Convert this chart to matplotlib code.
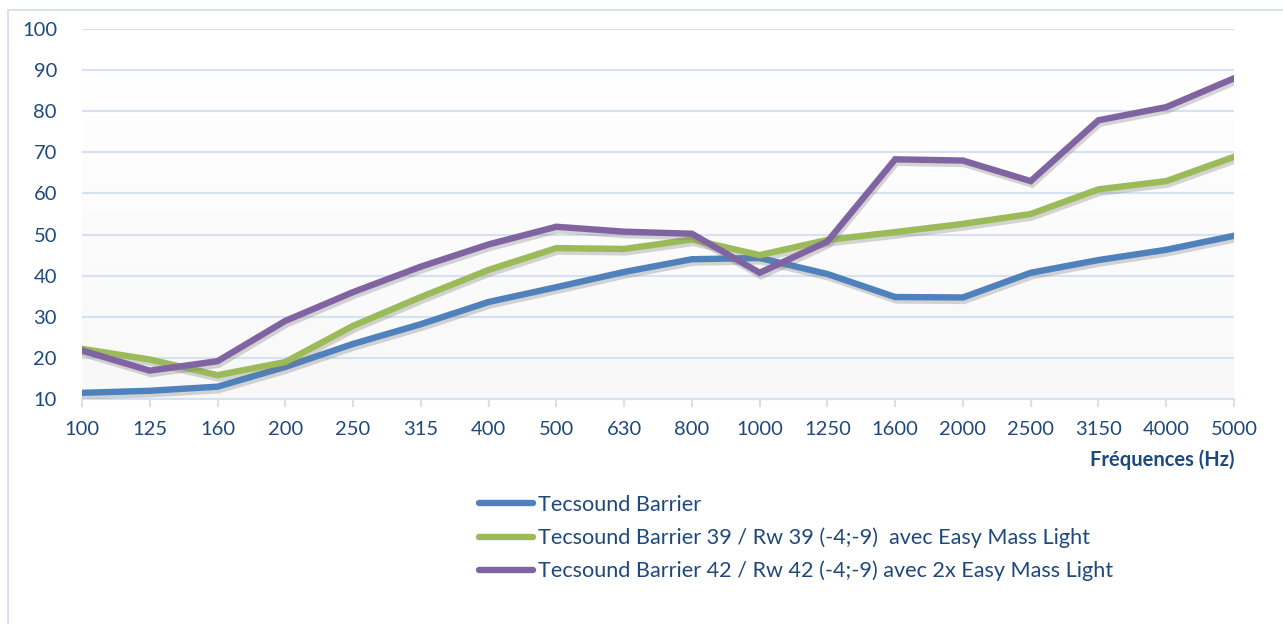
import matplotlib.pyplot as plt
import matplotlib.patheffects as pe
from matplotlib.patches import Rectangle
import numpy as np

plt.rcParams['font.family'] = ['Lato', 'DejaVu Sans']

frequences = ['100', '125', '160', '200', '250', '315', '400', '500', '630', '800',
              '1000', '1250', '1600', '2000', '2500', '3150', '4000', '5000']

barrier = [11.5, 12, 13, 17.8, 23.4, 28.2, 33.6, 37.2, 40.9, 44,
           44.3, 40.4, 34.8, 34.7, 40.7, 43.8, 46.3, 49.7]
barrier_39 = [22.2, 19.6, 15.8, 19, 27.8, 34.8, 41.4, 46.7, 46.5, 48.8,
              45, 48.7, 50.6, 52.6, 55, 61, 63, 68.9]
barrier_42 = [21.8, 16.9, 19.2, 29, 36, 42.2, 47.6, 51.9, 50.7, 50.2,
              40.7, 48.3, 68.3, 68, 63, 77.8, 81, 88]

labels = ['Tecsound Barrier',
          'Tecsound Barrier 39 / Rw 39 (-4;-9)  avec Easy Mass Light',
          'Tecsound Barrier 42 / Rw 42 (-4;-9) avec 2x Easy Mass Light']
couleurs = ['#4F81BD', '#9BBB59', '#8064A2']

texte = '#1F497D'
grille = '#D6E2F2'

W, H = 1283, 624
fig = plt.figure(figsize=(W / 100, H / 100), dpi=100)

# cadre du graphique
fig.patches.append(Rectangle((8 / W, -0.1), 1.2, 1 - 10 / H + 0.1,
                             transform=fig.transFigure, fill=False,
                             edgecolor=grille, lw=1.5))

ax = fig.add_axes([82 / W, 1 - 399 / H, (1234 - 82) / W, (399 - 29) / H])
x = np.arange(len(frequences))

# fond en dégradé léger
grad = np.linspace(1, 0, 256).reshape(-1, 1)
ax.imshow(grad, extent=[0, len(x) - 1, 10, 90], aspect='auto', origin='lower',
          cmap=plt.matplotlib.colors.LinearSegmentedColormap.from_list(
              'g', ['#FFFFFF', '#F8F8F8']), zorder=0, vmin=0, vmax=1)

ombre = [pe.SimpleLineShadow(offset=(1, -2.5), shadow_color='#777777', alpha=0.3),
         pe.Normal()]
for serie, c, lab in zip([barrier, barrier_39, barrier_42], couleurs, labels):
    ax.plot(x, serie, color=c, lw=4.6, label=lab, zorder=3,
            solid_joinstyle='miter', path_effects=ombre)

ax.set_xlim(0, len(x) - 1)
ax.set_ylim(10, 100)
ax.set_yticks(range(10, 101, 10))
ax.set_xticks(x)
ax.set_xticklabels(frequences)
ax.grid(axis='y', color=grille, lw=1.5, zorder=1)
ax.set_axisbelow(True)
for s in ['top', 'right', 'left']:
    ax.spines[s].set_visible(False)
ax.spines['bottom'].set_color(grille)
ax.spines['bottom'].set_linewidth(1.5)
ax.tick_params(axis='y', length=0, pad=18, labelsize=14.5, labelcolor=texte)
ax.tick_params(axis='x', length=6, width=1.5, color=grille, pad=10,
               labelsize=14.5, labelcolor=texte)

fig.text(1234 / W, 1 - 460 / H, 'Fréquences (Hz)', ha='right', va='center',
         fontsize=14.5, fontweight='bold', color=texte)

leg = fig.legend(loc='upper left', bbox_to_anchor=(479 / W, 1 - 495 / H),
                 frameon=False, fontsize=15.6, handlelength=2.5,
                 handletextpad=0.2, labelspacing=0.58, borderpad=0,
                 borderaxespad=0)
for t in leg.get_texts():
    t.set_color(texte)
for l in leg.get_lines():
    l.set_linewidth(4.6)
    l.set_path_effects([])
    l.set_solid_capstyle('round')

fig.savefig('out.png', dpi=100)
